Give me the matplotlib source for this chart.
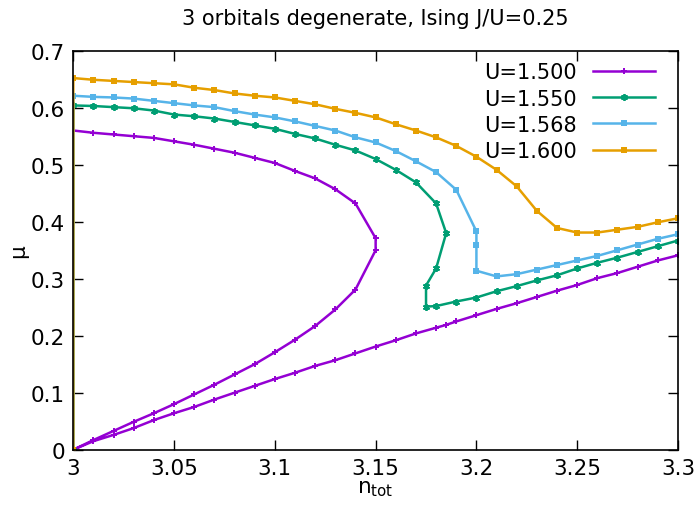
import numpy as np
import matplotlib
matplotlib.use("Agg")
import matplotlib.pyplot as plt

# data (path order, so the loops come out right)
# U=1.500 : upper branch, turning point, steep branch back to 0, then the lower line
n_u150 = [3.00, 3.01, 3.02, 3.03, 3.04, 3.05, 3.06, 3.07, 3.08, 3.09, 3.10, 3.11, 3.12, 3.13, 3.14, 3.15,
          3.15, 3.14, 3.13, 3.12, 3.11, 3.10, 3.09, 3.08, 3.07, 3.06, 3.05, 3.04, 3.03, 3.02, 3.01, 3.00,
          3.01, 3.02, 3.03, 3.04, 3.05, 3.06, 3.07, 3.08, 3.09, 3.10, 3.11, 3.12, 3.13, 3.14, 3.15, 3.16,
          3.17, 3.18, 3.185, 3.19, 3.20, 3.21, 3.22, 3.23, 3.24, 3.25, 3.26, 3.27, 3.28, 3.29, 3.30]
mu_u150 = [0.560, 0.556, 0.553, 0.550, 0.547, 0.541, 0.535, 0.528, 0.521, 0.512, 0.503, 0.489, 0.476, 0.457, 0.432, 0.371,
           0.350, 0.281, 0.246, 0.217, 0.193, 0.171, 0.150, 0.132, 0.114, 0.097, 0.080, 0.064, 0.049, 0.033, 0.017, 0.000,
           0.015, 0.026, 0.038, 0.052, 0.064, 0.075, 0.088, 0.100, 0.112, 0.124, 0.135, 0.147, 0.157, 0.169, 0.181, 0.192,
           0.204, 0.214, 0.219, 0.225, 0.236, 0.247, 0.257, 0.268, 0.279, 0.289, 0.301, 0.310, 0.321, 0.332, 0.341]

n_u155 = [3.00, 3.00, 3.01, 3.02, 3.03, 3.04, 3.05, 3.06, 3.07, 3.08, 3.09, 3.10, 3.11, 3.12, 3.13, 3.14, 3.15,
          3.16, 3.17, 3.18, 3.185, 3.18, 3.175, 3.175, 3.18, 3.19, 3.20, 3.21, 3.22, 3.23, 3.24, 3.25, 3.26,
          3.27, 3.28, 3.29, 3.30]
mu_u155 = [0.000, 0.604, 0.603, 0.601, 0.599, 0.595, 0.588, 0.585, 0.581, 0.575, 0.569, 0.563, 0.554, 0.546, 0.535, 0.525, 0.510,
           0.491, 0.469, 0.432, 0.380, 0.318, 0.288, 0.251, 0.252, 0.260, 0.267, 0.278, 0.287, 0.297, 0.306, 0.318, 0.328,
           0.337, 0.347, 0.357, 0.367]

n_u1568 = [3.00, 3.00, 3.01, 3.02, 3.03, 3.04, 3.05, 3.06, 3.07, 3.08, 3.09, 3.10, 3.11, 3.12, 3.13, 3.14, 3.15,
           3.16, 3.17, 3.18, 3.19, 3.20, 3.20, 3.20, 3.21, 3.22, 3.23, 3.24, 3.25, 3.26, 3.27, 3.28, 3.29, 3.30]
mu_u1568 = [0.000, 0.621, 0.619, 0.618, 0.616, 0.612, 0.608, 0.604, 0.601, 0.594, 0.588, 0.583, 0.576, 0.568, 0.560, 0.548, 0.539,
            0.524, 0.506, 0.487, 0.456, 0.383, 0.360, 0.314, 0.304, 0.308, 0.316, 0.324, 0.332, 0.340, 0.350, 0.360, 0.370, 0.378]

n_u160 = [3.00, 3.00, 3.01, 3.02, 3.03, 3.04, 3.05, 3.06, 3.07, 3.08, 3.09, 3.10, 3.11, 3.12, 3.13, 3.14, 3.15,
          3.16, 3.17, 3.18, 3.19, 3.20, 3.21, 3.22, 3.23, 3.24, 3.25, 3.26, 3.27, 3.28, 3.29, 3.30]
mu_u160 = [0.000, 0.652, 0.649, 0.647, 0.645, 0.643, 0.641, 0.635, 0.631, 0.625, 0.621, 0.618, 0.612, 0.606, 0.598, 0.591, 0.583,
           0.571, 0.560, 0.548, 0.533, 0.514, 0.491, 0.462, 0.419, 0.389, 0.381, 0.381, 0.386, 0.391, 0.399, 0.406]

labels = ["U=1.500", "U=1.550", "U=1.568", "U=1.600"]

plt.rcParams['font.family'] = 'DejaVu Sans'
plt.rcParams['mathtext.default'] = 'regular'

fig = plt.figure(figsize=(6.99, 5.06), dpi=100)
ax = fig.add_axes([0.1049, 0.1093, 0.865, 0.7885])

ax.plot(n_u150, mu_u150, color="#9400D3", lw=1.8, marker="+", ms=5, mew=1.4, label=labels[0])
ax.plot(n_u155, mu_u155, color="#009E73", lw=1.8, marker=(6, 2, 0), ms=5, mew=1.3, label=labels[1])
ax.plot(n_u1568, mu_u1568, color="#56B4E9", lw=1.8, marker="s", ms=4.5, mew=0, label=labels[2])
ax.plot(n_u160, mu_u160, color="#E69F00", lw=1.8, marker="s", ms=4.5, mew=0, label=labels[3])

ax.set_xlim(3, 3.3)
ax.set_ylim(0, 0.7)
ax.set_xticks([3, 3.05, 3.1, 3.15, 3.2, 3.25, 3.3])
ax.set_xticklabels(["3", "3.05", "3.1", "3.15", "3.2", "3.25", "3.3"])
ax.set_yticks([0, 0.1, 0.2, 0.3, 0.4, 0.5, 0.6, 0.7])
ax.set_yticklabels(["0", "0.1", "0.2", "0.3", "0.4", "0.5", "0.6", "0.7"])
ax.tick_params(direction="in", length=7, width=1, top=True, right=True, labelsize=15.5, pad=6)
for s in ax.spines.values():
    s.set_linewidth(1.2)

ax.set_title("3 orbitals degenerate, Ising J/U=0.25", fontsize=15, pad=19)
ax.set_xlabel("n$_{tot}$", fontsize=15.5, labelpad=0)
ax.set_ylabel("μ", fontsize=15.5, labelpad=2)

ax.legend(loc="upper right", frameon=False, markerfirst=False, fontsize=15,
          handlelength=3.0, labelspacing=0.3, borderaxespad=0.25, handletextpad=0.75,
          bbox_to_anchor=(0.985, 1.005))

fig.savefig("out.png", dpi=100)
